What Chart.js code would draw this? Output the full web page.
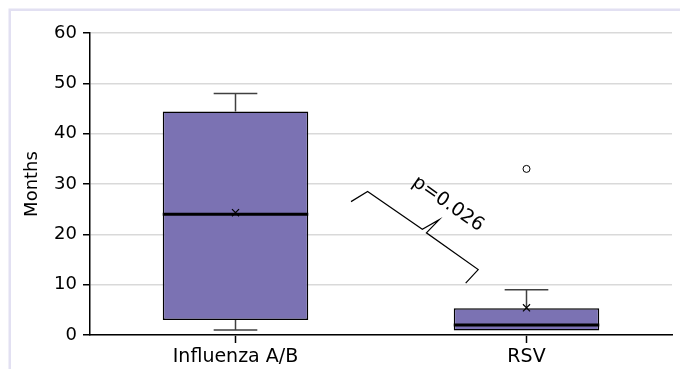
<!DOCTYPE html>
<html>
<head>
<meta charset="utf-8">
<script src="https://cdn.jsdelivr.net/npm/chart.js@4"></script>
<style>
  html, body { margin: 0; padding: 0; background: #fff; overflow: hidden; }
  #grafico { display: block; }
</style>
</head>
<body>
<canvas id="grafico" width="680" height="369"></canvas>
<script>
// Datos del diagrama de cajas
const categorias = ['Influenza A/B', 'RSV'];
const bigoteInferior = [1, 0.9];
const cuartil1 = [3, 0.9];
const mediana = [24, 2];
const cuartil3 = [44.4, 5.3];
const bigoteSuperior = [48, 9];
const media = [24.3, 5.4];
const atipicos = [null, 33];
const ticksY = [0, 10, 20, 30, 40, 50, 60];

// Anotacion de la llave: puntos en unidades (indice de categoria, meses)
const llaveX = [0.397, 0.454, 0.642, 0.700, 0.656, 0.834, 0.791];
const llaveY = [26.5, 28.5, 21.0, 22.9, 20.3, 13.0, 10.3];
const etiquetaP = 'p=0.026';
const etiquetaPosicion = [0.73, 26.0];

const fuente = 'DejaVu Sans, Verdana, sans-serif';
const relleno = '#7b72b3';

// Marco claro del panel (solo bordes superior e izquierdo quedan visibles)
const marco = {
  id: 'marco',
  beforeDraw(chart) {
    const ctx = chart.ctx;
    ctx.save();
    ctx.fillStyle = '#fff';
    ctx.fillRect(0, 0, chart.width, chart.height);
    ctx.strokeStyle = '#e2e0f2';
    ctx.lineWidth = 2.5;
    ctx.beginPath();
    ctx.moveTo(9.75, chart.height);
    ctx.lineTo(9.75, 9.75);
    ctx.lineTo(chart.width, 9.75);
    ctx.stroke();
    ctx.restore();
  }
};

const cajas = {
  id: 'cajas',
  afterDatasetDraw(chart, args) {
    if (args.index !== 0) return;
    const ctx = chart.ctx;
    const y = chart.scales.y;
    const barras = args.meta.data;
    ctx.save();
    barras.forEach((barra, i) => {
      const cx = barra.x;
      const ancho = barra.width;
      const tapa = ancho * 0.15;
      ctx.strokeStyle = '#404040';
      ctx.lineWidth = 1.5;
      ctx.beginPath();
      if (bigoteSuperior[i] > cuartil3[i]) {
        ctx.moveTo(cx, y.getPixelForValue(cuartil3[i]));
        ctx.lineTo(cx, y.getPixelForValue(bigoteSuperior[i]));
        ctx.moveTo(cx - tapa, y.getPixelForValue(bigoteSuperior[i]));
        ctx.lineTo(cx + tapa, y.getPixelForValue(bigoteSuperior[i]));
      }
      if (bigoteInferior[i] < cuartil1[i]) {
        ctx.moveTo(cx, y.getPixelForValue(cuartil1[i]));
        ctx.lineTo(cx, y.getPixelForValue(bigoteInferior[i]));
        ctx.moveTo(cx - tapa, y.getPixelForValue(bigoteInferior[i]));
        ctx.lineTo(cx + tapa, y.getPixelForValue(bigoteInferior[i]));
      }
      ctx.stroke();
      ctx.strokeStyle = '#000';
      ctx.lineWidth = 3;
      ctx.beginPath();
      ctx.moveTo(cx - ancho / 2, y.getPixelForValue(mediana[i]));
      ctx.lineTo(cx + ancho / 2, y.getPixelForValue(mediana[i]));
      ctx.stroke();
    });
    ctx.restore();
  }
};

const llave = {
  id: 'llave',
  afterDraw(chart) {
    const ctx = chart.ctx;
    const x = chart.scales.x;
    const y = chart.scales.y;
    ctx.save();
    ctx.strokeStyle = '#000';
    ctx.lineWidth = 1.2;
    ctx.beginPath();
    llaveX.forEach((v, i) => {
      const px = x.getPixelForValue(v);
      const py = y.getPixelForValue(llaveY[i]);
      if (i === 0) ctx.moveTo(px, py); else ctx.lineTo(px, py);
    });
    ctx.stroke();
    ctx.translate(x.getPixelForValue(etiquetaPosicion[0]), y.getPixelForValue(etiquetaPosicion[1]));
    ctx.rotate(35 * Math.PI / 180);
    ctx.font = '19px ' + fuente;
    ctx.fillStyle = '#000';
    ctx.textAlign = 'center';
    ctx.textBaseline = 'middle';
    ctx.fillText(etiquetaP, 0, 0);
    ctx.restore();
  }
};

new Chart(document.getElementById('grafico'), {
  type: 'bar',
  data: {
    labels: categorias,
    datasets: [
      {
        type: 'bar',
        data: cuartil1.map((v, i) => [v, cuartil3[i]]),
        backgroundColor: relleno,
        borderColor: '#000',
        borderWidth: 1.5,
        borderSkipped: false,
        barPercentage: 0.5,
        categoryPercentage: 1,
        order: 2
      },
      {
        type: 'line',
        data: media,
        showLine: false,
        pointStyle: 'crossRot',
        pointRadius: 5,
        borderColor: '#000',
        borderWidth: 1.2,
        order: 0
      },
      {
        type: 'line',
        data: atipicos,
        showLine: false,
        pointStyle: 'circle',
        pointRadius: 3.5,
        backgroundColor: '#fff',
        borderColor: '#000',
        borderWidth: 1,
        order: 0
      }
    ]
  },
  options: {
    responsive: false,
    animation: false,
    layout: { padding: { left: 10, right: 8, top: 33, bottom: 0 } },
    plugins: {
      legend: { display: false },
      tooltip: { enabled: false }
    },
    scales: {
      x: {
        offset: true,
        grid: {
          display: true,
          drawOnChartArea: false,
          drawTicks: true,
          tickLength: 8,
          tickColor: '#000',
          tickWidth: 1.5,
          offset: false
        },
        border: { color: '#000', width: 1.5 },
        ticks: { color: '#000', padding: 3, font: { family: fuente, size: 19 } },
        afterFit(escala) { escala.height = 34; }
      },
      y: {
        min: 0,
        max: 60,
        afterBuildTicks(escala) { escala.ticks = ticksY.map(v => ({ value: v })); },
        grid: {
          color: '#d9d9d9',
          lineWidth: 1.5,
          tickColor: '#000',
          tickWidth: 1.5,
          tickLength: 7
        },
        border: { color: '#000', width: 1.5 },
        ticks: { color: '#000', padding: 6, font: { family: fuente, size: 18 } },
        title: {
          display: true,
          text: 'Months',
          color: '#000',
          padding: { top: 12, bottom: 0 },
          font: { family: fuente, size: 18 }
        },
        afterFit(escala) { escala.width = 80; }
      }
    }
  },
  plugins: [marco, cajas, llave]
});
</script>
</body>
</html>
